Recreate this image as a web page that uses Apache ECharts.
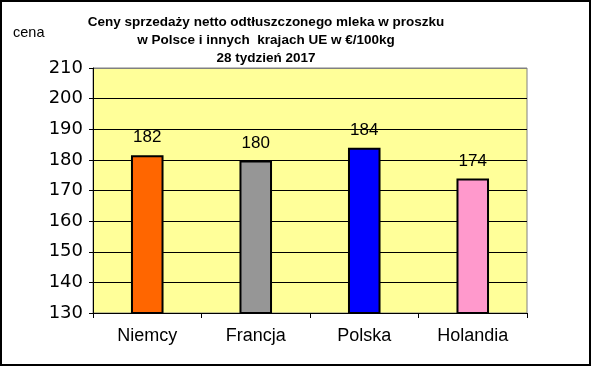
<!DOCTYPE html>
<html><head><meta charset="utf-8">
<script src="https://cdn.jsdelivr.net/npm/echarts@6/dist/echarts.min.js"></script>
<style>html,body{margin:0;padding:0;background:#fff}#c{width:591px;height:366px}</style>
</head><body><div id="c"></div>
<script>
var categories = ['Niemcy', 'Francja', 'Polska', 'Holandia'];
var values = [181.5, 179.8, 184.0, 173.9];
var barColors = ['#FF6600', '#969696', '#0000FF', '#FF99CC'];
var titleLines = ['Ceny sprzedaży netto odtłuszczonego mleka w proszku', 'w Polsce i innych  krajach UE w €/100kg', '28 tydzień 2017'];
var yName = 'cena';
var yMin = 130, yMax = 210, yStep = 10;

var chart = echarts.init(document.getElementById('c'), null, {renderer: 'canvas'});
var gridColors = [];
for (var v = yMin; v <= yMax; v += yStep) gridColors.push(v === yMax ? '#808080' : '#000000');
chart.setOption({
  animation: false,
  backgroundColor: '#ffffff',
  title: {
    text: titleLines.join('\n'),
    left: 261, top: 8, textAlign: 'center',
    textStyle: {fontFamily: 'Liberation Sans, Arial', fontWeight: 'bold', fontSize: 13.5, lineHeight: 18, color: '#000'}
  },
  graphic: [
    {type: 'rect', shape: {x: 1, y: 1, width: 589, height: 364}, style: {fill: 'none', stroke: '#000', lineWidth: 2}, silent: true},
    {type: 'text', left: 13, top: 25, style: {text: yName, font: '14.5px "Liberation Sans", Arial', fill: '#000'}}
  ],
  grid: {left: 93, right: 64, top: 68, bottom: 53, show: true, backgroundColor: '#FFFF99', borderColor: '#808080', borderWidth: 1},
  xAxis: {
    type: 'category', data: categories,
    axisLine: {lineStyle: {color: '#000', width: 1}},
    axisTick: {show: true, length: 5, lineStyle: {color: '#000'}},
    axisLabel: {color: '#000', fontSize: 18, fontFamily: 'Liberation Sans, Arial', margin: 14}
  },
  yAxis: {
    type: 'value', min: yMin, max: yMax, interval: yStep,
    axisLine: {show: true, lineStyle: {color: '#000', width: 1}},
    axisTick: {show: true, length: 4, lineStyle: {color: '#000'}},
    axisLabel: {color: '#000', fontSize: 18, fontFamily: 'DejaVu Sans', margin: 10},
    splitLine: {show: true, lineStyle: {color: gridColors, width: 1}}
  },
  series: [{
    type: 'bar', barWidth: '30%',
    data: values.map(function (v, i) {
      return {value: v, itemStyle: {color: barColors[i], borderColor: '#000', borderWidth: 2}};
    }),
    label: {
      show: true, position: 'top', distance: 9, color: '#000',
      fontSize: 17, fontFamily: 'Liberation Sans, Arial',
      formatter: function (p) { return Math.round(p.value); }
    }
  }]
});
</script></body></html>
